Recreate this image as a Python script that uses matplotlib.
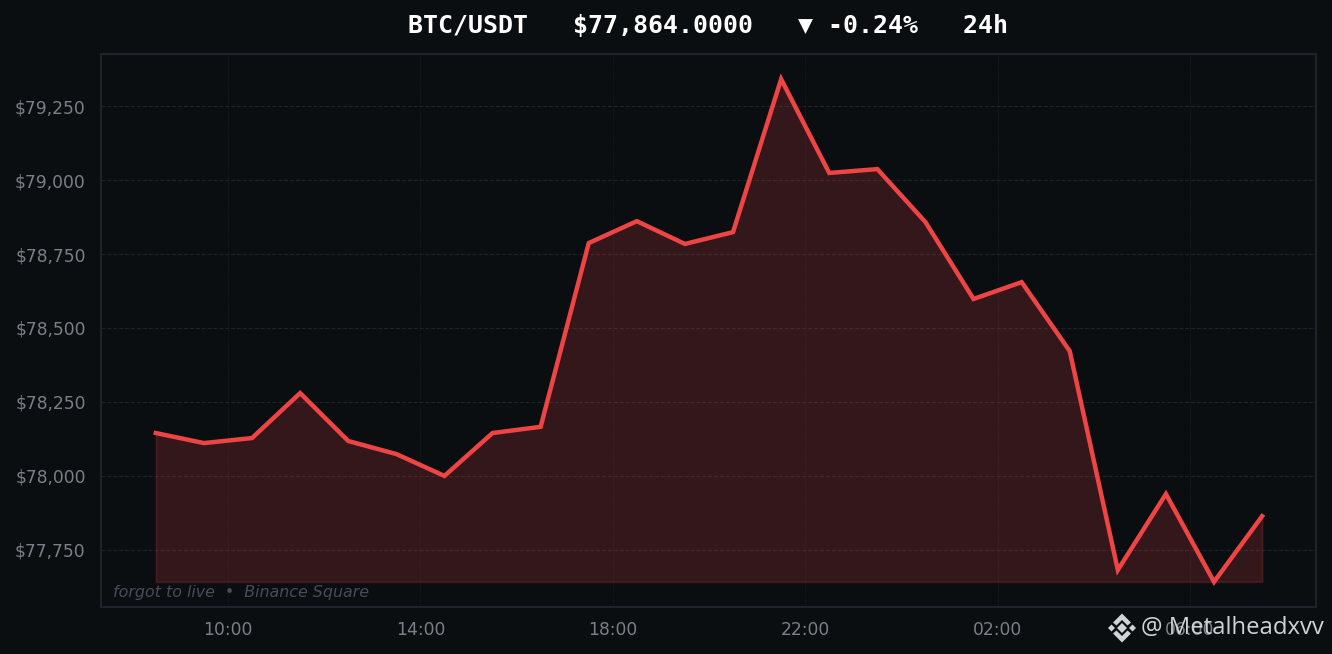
import matplotlib
matplotlib.use("Agg")
import matplotlib.pyplot as plt
from matplotlib.patches import Polygon

# hours since midnight, past 24 means next day
hours = [8.5, 9.5, 10.5, 11.5, 12.5, 13.5, 14.5, 15.5, 16.5, 17.5, 18.5, 19.5,
         20.5, 21.5, 22.5, 23.5, 24.5, 25.5, 26.5, 27.5, 28.5, 29.5, 30.5, 31.5]
prices = [78145, 78111, 78128, 78280, 78118, 78074, 78000, 78145, 78166, 78787, 78861, 78784,
          78824, 79341, 79024, 79037, 78858, 78598, 78655, 78422, 77682, 77939, 77642, 77864]
x_ticks = [10, 14, 18, 22, 26, 30]
x_labels = ["10:00", "14:00", "18:00", "22:00", "02:00", "06:00"]
y_ticks = [77750, 78000, 78250, 78500, 78750, 79000, 79250]

bg = "#0b0e11"
red = "#ef4444"
logo = "#d0d3d6"

fig = plt.figure(figsize=(13.32, 6.54), dpi=100, facecolor=bg)
ax = fig.add_axes([101/1332, 1-607/654, 1215/1332, 553/654], facecolor=bg)

ax.fill_between(hours, prices, min(prices), color=red, alpha=0.18, linewidth=1.2, zorder=2)
ax.plot(hours, prices, color=red, linewidth=3.2, solid_joinstyle="miter", zorder=3)

ax.set_xlim(7.36, 32.62)
ax.set_ylim(77557, 79426)
ax.set_xticks(x_ticks)
ax.set_xticklabels(x_labels)
ax.set_yticks(y_ticks)
ax.set_yticklabels(["$%s" % format(v, ",") for v in y_ticks])
ax.tick_params(colors="#7b8088", labelsize=12.3, length=0)
ax.tick_params(axis="x", pad=10)
ax.tick_params(axis="y", pad=11)

ax.grid(True, axis="y", color="#1e2329", linestyle="--", linewidth=0.8, zorder=1)
ax.grid(True, axis="x", color="#1e2329", linestyle=":", linewidth=0.6, zorder=1)
ax.set_axisbelow(True)
for s in ax.spines.values():
    s.set_color("#1e2329")
    s.set_linewidth(1.5)

fig.text(708.5/1332, 1-26/654, "BTC/USDT   $77,864.0000   ▼ -0.24%   24h", color="white",
         family="DejaVu Sans Mono", fontweight="bold", fontsize=17.92, ha="center", va="center")
fig.text(113/1332, 1-592/654, "forgot to live  •  Binance Square", color="#474d57",
         fontstyle="italic", fontsize=11.45, ha="left", va="center")

# watermark
fig.text(1141/1332, 1-628.5/654, "@ Metalheadxvv", color=logo, family="Open Sans",
         fontsize=17.2, ha="left", va="center")
cx, cy = 1122, 628
shapes = [
    [(-5, 0), (0, -5), (5, 0), (0, 5)],
    [(-14, 0), (-10.5, -3.5), (-7, 0), (-10.5, 3.5)],
    [(14, 0), (10.5, -3.5), (7, 0), (10.5, 3.5)],
    [(-9, -5.5), (0, -14.5), (9, -5.5), (5.5, -2.5), (0, -8), (-5.5, -2.5)],
    [(-9, 5.5), (0, 14.5), (9, 5.5), (5.5, 2.5), (0, 8), (-5.5, 2.5)],
]
for pts in shapes:
    fig.add_artist(Polygon([(cx+a, 654-(cy+b)) for a, b in pts], closed=True, color=logo,
                           linewidth=0, transform=None))
fig.savefig("out.png", dpi=100, facecolor=bg)
